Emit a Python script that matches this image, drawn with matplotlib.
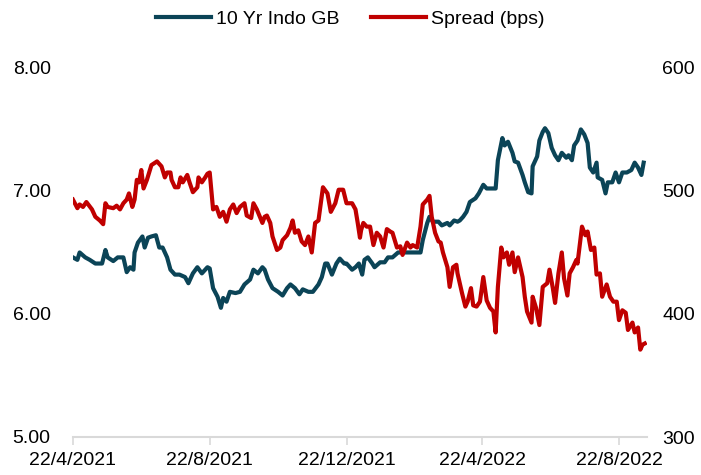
import numpy as np
import pandas as pd
import matplotlib
matplotlib.use('Agg')
import matplotlib.pyplot as plt
from matplotlib.ticker import FuncFormatter, FixedLocator
import matplotlib.dates as mdates

plt.rcParams['font.family'] = ['Liberation Sans', 'DejaVu Sans']

start = pd.Timestamp('2021-04-22')

# 10 Yr Indo GB yield (%), days counted from 22/4/2021
gb_days = [0, 4, 6, 11, 15, 20, 26, 29, 31, 36, 40, 45, 48, 51, 54, 55, 58, 62, 64, 67,
           70, 74, 77, 80, 84, 87, 91, 95, 100, 103, 107, 111, 115, 120, 122, 125, 129, 132,
           134, 137, 140, 145, 149, 153, 158, 161, 165, 169, 171, 174, 178, 183, 187, 191,
           194, 198, 202, 205, 210, 214, 219, 222, 225, 227, 231, 235, 238, 242, 244, 249,
           252, 255, 258, 260, 263, 267, 269, 274, 278, 281, 285, 290, 294, 299, 305, 310,
           312, 316, 318, 321, 326, 329, 334, 336, 340, 343, 345, 348, 351, 354, 359, 362,
           366, 369, 374, 377, 379, 383, 385, 388, 392, 394, 397, 401, 403, 406, 409, 410,
           414, 416, 419, 421, 424, 427, 430, 433, 436, 440, 442, 445, 447, 450, 453, 456,
           459, 461, 464, 467, 468, 472, 475, 477, 481, 484, 487, 490, 494, 498, 501, 504,
           507, 509]
gb_yield = [6.46, 6.44, 6.50, 6.46, 6.44, 6.41, 6.41, 6.52, 6.46, 6.43, 6.46, 6.46, 6.34, 6.38,
            6.36, 6.50, 6.58, 6.63, 6.54, 6.62, 6.63, 6.64, 6.54, 6.54, 6.46, 6.36, 6.32, 6.32,
            6.30, 6.25, 6.33, 6.38, 6.33, 6.38, 6.37, 6.21, 6.14, 6.05, 6.13, 6.10, 6.18, 6.17,
            6.18, 6.24, 6.28, 6.36, 6.33, 6.38, 6.36, 6.28, 6.21, 6.18, 6.15, 6.21, 6.24, 6.21,
            6.16, 6.20, 6.18, 6.18, 6.24, 6.30, 6.41, 6.41, 6.32, 6.41, 6.45, 6.41, 6.41, 6.36,
            6.38, 6.41, 6.32, 6.44, 6.46, 6.41, 6.38, 6.42, 6.42, 6.46, 6.46, 6.50, 6.50, 6.50,
            6.50, 6.50, 6.60, 6.74, 6.79, 6.75, 6.75, 6.72, 6.74, 6.72, 6.76, 6.75, 6.76, 6.79,
            6.83, 6.91, 6.94, 6.98, 7.05, 7.02, 7.02, 7.02, 7.25, 7.43, 7.37, 7.40, 7.31, 7.24,
            7.23, 7.13, 7.07, 6.99, 6.98, 7.20, 7.28, 7.41, 7.48, 7.51, 7.47, 7.35, 7.29, 7.25,
            7.31, 7.27, 7.29, 7.25, 7.37, 7.41, 7.50, 7.46, 7.39, 7.19, 7.15, 7.23, 7.11, 7.09,
            6.98, 7.07, 7.07, 7.15, 7.07, 7.15, 7.15, 7.17, 7.23, 7.19, 7.13, 7.23]

# Spread (bps), days counted from 22/4/2021
sp_days = [0, 4, 6, 9, 12, 17, 20, 24, 27, 29, 31, 36, 39, 42, 45, 48, 50, 53, 55, 57, 59,
           61, 63, 66, 70, 75, 79, 82, 84, 87, 88, 91, 94, 96, 98, 102, 104, 107, 111, 112,
           115, 118, 120, 122, 125, 128, 131, 134, 137, 140, 143, 146, 149, 153, 155, 159,
           161, 164, 169, 171, 173, 176, 178, 182, 185, 187, 191, 194, 196, 198, 201, 204,
           207, 210, 213, 216, 219, 223, 227, 230, 234, 237, 241, 244, 249, 252, 254, 256,
           257, 259, 262, 265, 268, 271, 274, 277, 280, 283, 285, 289, 292, 294, 298, 301,
           303, 307, 310, 312, 316, 318, 320, 323, 326, 328, 330, 334, 336, 339, 342, 343,
           347, 350, 352, 355, 357, 360, 363, 366, 369, 372, 375, 377, 379, 382, 384, 387,
           389, 392, 394, 397, 401, 403, 405, 409, 410, 413, 416, 419, 423, 425, 428, 430,
           433, 436, 438, 441, 443, 446, 449, 450, 454, 457, 459, 462, 465, 467, 470, 472,
           476, 479, 482, 485, 487, 490, 493, 495, 499, 501, 504, 506, 508, 510]
spread = [493, 486, 489, 487, 491, 485, 479, 476, 473, 490, 487, 486, 488, 485, 490, 493, 498,
          487, 493, 509, 507, 517, 502, 509, 521, 524, 520, 511, 515, 515, 509, 503, 503, 511,
          507, 513, 507, 499, 503, 511, 507, 511, 514, 515, 485, 487, 479, 483, 475, 485, 489,
          482, 487, 490, 480, 478, 490, 485, 474, 479, 480, 474, 463, 452, 454, 460, 464, 470,
          476, 466, 468, 459, 456, 463, 450, 474, 476, 503, 498, 483, 490, 501, 501, 490, 490,
          485, 474, 462, 468, 474, 471, 471, 456, 466, 463, 454, 469, 467, 466, 454, 455, 448,
          458, 454, 456, 454, 471, 489, 493, 496, 479, 466, 459, 458, 450, 438, 422, 438, 440,
          433, 417, 406, 410, 421, 407, 406, 410, 430, 411, 405, 402, 385, 422, 454, 446, 450,
          440, 450, 434, 446, 430, 414, 402, 393, 414, 405, 391, 422, 425, 436, 421, 409, 433,
          450, 429, 415, 433, 438, 444, 441, 471, 464, 467, 452, 454, 432, 433, 414, 424, 414,
          410, 410, 395, 403, 401, 387, 393, 385, 389, 371, 375, 376]

tick_dates = ['2021-04-22', '2021-08-22', '2021-12-22', '2022-04-22', '2022-08-22']

gb_dates = start + pd.to_timedelta(gb_days, unit='D')
sp_dates = start + pd.to_timedelta(sp_days, unit='D')

teal = '#0B4457'
red = '#C00000'

fig = plt.figure(figsize=(7.01, 4.75), dpi=100)
ax = fig.add_axes([0.104, 0.08, 0.819, 0.777])
ax2 = ax.twinx()

l1, = ax.plot(gb_dates, gb_yield, color=teal, lw=3.0, solid_joinstyle='round')
l2, = ax2.plot(sp_dates, spread, color=red, lw=3.0, solid_joinstyle='round')

ax.set_xlim(start, start + pd.Timedelta(days=512))
ax.set_ylim(5, 8)
ax2.set_ylim(300, 600)
ax.set_yticks([5, 6, 7, 8])
ax2.set_yticks([300, 400, 500, 600])
ax.yaxis.set_major_formatter(FuncFormatter(lambda v, p: f'{v:.2f}'))

ticks = [mdates.date2num(pd.Timestamp(d)) for d in tick_dates]
ax.xaxis.set_major_locator(FixedLocator(ticks))
ax.xaxis.set_major_formatter(FuncFormatter(
    lambda v, p: (lambda d: f'{d.day}/{d.month}/{d.year}')(mdates.num2date(v))))

for a in (ax, ax2):
    for s in ('top', 'left', 'right'):
        a.spines[s].set_visible(False)
    a.spines['bottom'].set_color('#D9D9D9')
    a.spines['bottom'].set_linewidth(1.5)
    a.tick_params(axis='y', length=0, labelsize=14, colors='black')
ax2.spines['bottom'].set_visible(False)
ax.tick_params(axis='y', pad=16)
ax2.tick_params(axis='y', pad=11)
ax.tick_params(axis='x', length=6, width=1.2, color='#D9D9D9', labelsize=14, pad=5)

fig.legend([l1, l2], ['10 Yr Indo GB', 'Spread (bps)'], loc='upper center',
           bbox_to_anchor=(0.5, 1.015), ncol=2, frameon=False, fontsize=14,
           handlelength=2.8, handletextpad=0.3, columnspacing=1.6)

fig.savefig('out.png', dpi=100)
